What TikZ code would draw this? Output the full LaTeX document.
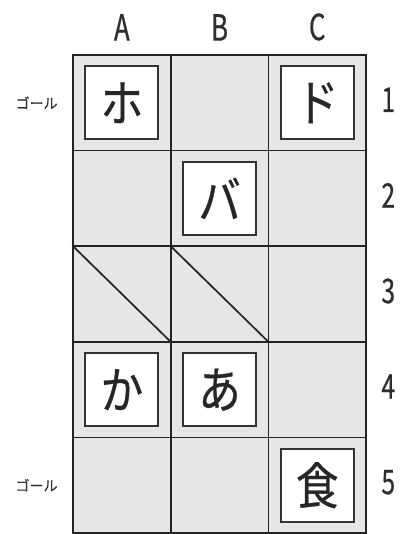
\documentclass[tikz,border=0pt]{standalone}
\usepackage{fontspec}
\newfontfamily\jpfont[FakeStretch=0.85, FakeBold=0.6]{Noto Sans CJK JP}
\newfontfamily\goalfont[FakeBold=0.3]{Noto Sans CJK JP}
\newfontfamily\lblfont[FakeStretch=0.72, FakeBold=0.5]{Noto Sans CJK JP}
\usetikzlibrary{positioning}
\definecolor{cellgray}{RGB}{230,230,230}
\definecolor{gridline}{RGB}{35,35,35}
\definecolor{labeltext}{RGB}{45,45,45}
\tikzset{
    cell/.style={rectangle, draw=gridline, line width=1.7pt, fill=cellgray, minimum width=97.7pt, minimum height=95.6pt, inner sep=0pt},
    tile/.style={rectangle, draw=black!80, line width=2.1pt, fill=white, minimum size=73pt, inner sep=0pt, font=\jpfont\fontsize{50}{50}\selectfont, text=black!85},
    collabel/.style={font=\lblfont\fontsize{36}{36}\selectfont, text=labeltext},
    rowlabel/.style={font=\lblfont\fontsize{34}{34}\selectfont, text=labeltext},
    goal/.style={font=\goalfont\fontsize{14}{14}\selectfont, text=labeltext},
    diag/.style={draw=gridline, line width=1.7pt},
}
\begin{document}
\begin{tikzpicture}[x=1pt, y=-1pt]
\useasboundingbox (0,0) rectangle (401,534);

% board
\foreach \c [count=\i from 0] in {A,B,C}
  \foreach \r in {1,...,5}
    \node[cell] (cell-\c\r) at ({121.85+97.7*\i}, {102.8+95.6*(\r-1)}) {};

% column and row labels
\foreach \c in {A,B,C}
  \node[collabel, above=10pt of cell-\c1.north] (col-\c) {\c};
\foreach \r in {1,...,5}
  \node[rowlabel, right=11pt of cell-C\r.east, yshift=3pt] (row-\r) {\r};

\node[goal, left=11pt of cell-A1.west] (goal-top) {ゴール};
\node[goal, left=11pt of cell-A5.west] (goal-bottom) {ゴール};

% blocked cells
\draw[diag] (cell-A3.north west) -- (cell-A3.south east);
\draw[diag] (cell-B3.north west) -- (cell-B3.south east);

% pieces
\node[tile] (tile-A1) at (cell-A1) {ホ};
\node[tile] (tile-C1) at (cell-C1) {ド};
\node[tile] (tile-B2) at (cell-B2) {バ};
\node[tile] (tile-A4) at (cell-A4) {か};
\node[tile] (tile-B4) at (cell-B4) {あ};
\node[tile] (tile-C5) at (cell-C5) {食};

\end{tikzpicture}
\end{document}
